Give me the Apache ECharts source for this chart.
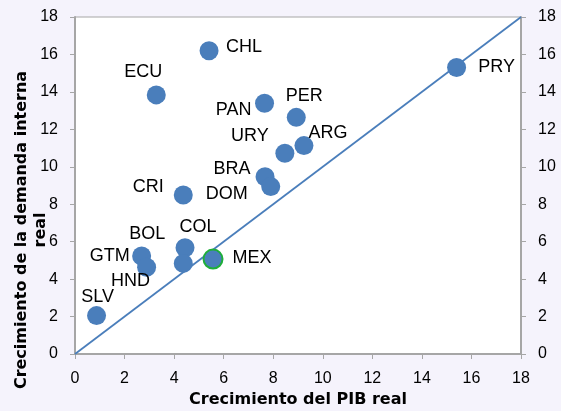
<!DOCTYPE html>
<html>
<head>
<meta charset="utf-8">
<script src="https://cdn.jsdelivr.net/npm/echarts@6/dist/echarts.min.js"></script>
<style>
html,body{margin:0;padding:0;background:#f5f3fc;}
#chart{width:561px;height:411px;}
</style>
</head>
<body>
<div id="chart"></div>
<script>
var countries = ['CHL','ECU','PAN','PER','ARG','URY','BRA','DOM','CRI','COL','GTM','HND','BOL','MEX','SLV','PRY'];
var pibReal =     [5.41, 3.28, 7.65, 8.93, 9.24, 8.47, 7.67, 7.90, 4.37, 4.44, 2.69, 2.89, 4.37, 5.57, 0.87, 15.40];
var demandaReal = [16.2, 13.84,13.39,12.64,11.13,10.72,9.47, 8.94, 8.49, 5.68, 5.23, 4.63, 4.84, 5.07, 2.05, 15.30];
var diagonalX = [0, 18];
var diagonalY = [0, 18];
var axisTicks = [0, 2, 4, 6, 8, 10, 12, 14, 16, 18];

// label placement (style only)
var labelOffsets = {
  CHL:[35,-4], ECU:[-13,-23], PAN:[-31,7], PER:[8,-21], ARG:[24,-13], URY:[-35,-17],
  BRA:[-33,-8], DOM:[-44,7], CRI:[-35,-8], COL:[13,-21], GTM:[-32,0], HND:[-16,14],
  BOL:[-36,-29], MEX:[39,-1], SLV:[1,-19], PRY:[40,-1]
};

var blue = '#4a7ebb';
var points = countries.map(function(c, i){
  var item = {
    name: c,
    value: [pibReal[i], demandaReal[i]],
    label: {offset: labelOffsets[c]}
  };
  if (c === 'MEX') {
    item.itemStyle = {borderColor: '#1fae3a', borderWidth: 2};
  }
  return item;
});
var diag = diagonalX.map(function(x, i){ return [x, diagonalY[i]]; });

var tickFont = {fontFamily: 'Liberation Sans, Arial, sans-serif', fontSize: 16, color: '#000'};
var gray = '#a6a6a6';

var chart = echarts.init(document.getElementById('chart'));
chart.setOption({
  backgroundColor: '#f5f3fc',
  animation: false,
  grid: {left: 75, top: 17, width: 446, height: 337, containLabel: false, outerBoundsMode: 'none',
         show: true, backgroundColor: '#ffffff', borderColor: gray, borderWidth: 1},
  xAxis: {
    type: 'value', min: axisTicks[0], max: axisTicks[axisTicks.length-1], interval: 2,
    axisLine: {show: true, lineStyle: {color: gray, width: 2}},
    axisTick: {show: true, length: 5, lineStyle: {color: gray}},
    splitLine: {show: false},
    axisLabel: Object.assign({margin: 17}, tickFont),
    name: 'Crecimiento del PIB real', nameLocation: 'middle', nameGap: 38,
    nameTextStyle: {fontFamily: 'DejaVu Sans, sans-serif', fontSize: 16, fontWeight: 'bold', color: '#000'}
  },
  yAxis: [{
    type: 'value', min: axisTicks[0], max: axisTicks[axisTicks.length-1], interval: 2, position: 'left',
    axisLine: {show: true, lineStyle: {color: gray, width: 2}},
    axisTick: {show: true, length: 5, lineStyle: {color: gray}},
    splitLine: {show: false},
    axisLabel: Object.assign({margin: 17, padding: [6, 0, 0, 0]}, tickFont)
  },{
    type: 'value', min: axisTicks[0], max: axisTicks[axisTicks.length-1], interval: 2, position: 'right',
    axisLine: {show: true, lineStyle: {color: gray, width: 2}},
    axisTick: {show: true, length: 5, lineStyle: {color: gray}},
    splitLine: {show: false},
    axisLabel: Object.assign({margin: 17, padding: [6, 0, 0, 0]}, tickFont)
  }],
  graphic: [{
    type: 'text',
    x: 31, y: 230, rotation: Math.PI/2,
    style: {
      text: 'Crecimiento de la demanda interna\nreal',
      textAlign: 'center', textVerticalAlign: 'middle',
      font: 'bold 16px "DejaVu Sans", sans-serif',
      fill: '#000', lineHeight: 19
    }
  }],
  series: [{
    type: 'line', data: diag, symbol: 'none', silent: true,
    lineStyle: {color: blue, width: 1.8}, z: 1
  },{
    type: 'scatter', data: points, symbolSize: 19, z: 2,
    itemStyle: {color: blue, opacity: 1},
    label: {
      show: true, position: 'inside', formatter: '{b}',
      align: 'center', verticalAlign: 'middle',
      fontFamily: 'Liberation Sans, Arial, sans-serif', fontSize: 18, color: '#000'
    }
  }]
});
</script>
</body>
</html>
